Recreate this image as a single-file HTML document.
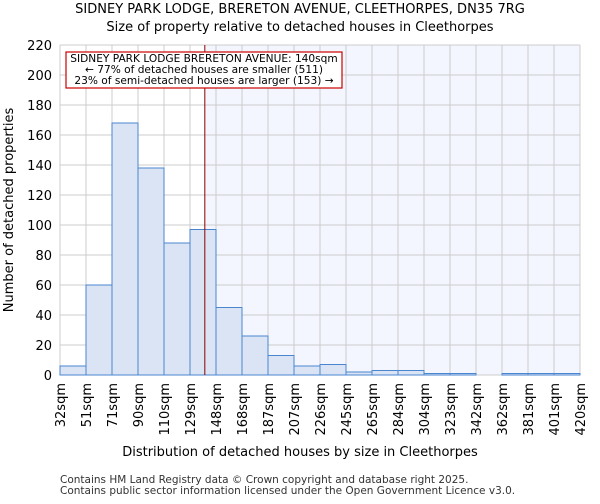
<!DOCTYPE html>
<html><head><meta charset="utf-8"><style>
body{margin:0;background:#fff;font-family:"DejaVu Sans","Liberation Sans",sans-serif;}
</style></head><body>
<svg width="600" height="500" xmlns="http://www.w3.org/2000/svg" font-family="DejaVu Sans, Liberation Sans, sans-serif">
<g id="grid"></g>
<g id="bars"></g>
<g id="axes"></g>
<text x="300" y="13" text-anchor="middle" font-size="13">SIDNEY PARK LODGE, BRERETON AVENUE, CLEETHORPES, DN35 7RG</text>
<text x="300" y="31" text-anchor="middle" font-size="13">Size of property relative to detached houses in Cleethorpes</text>
<text x="300" y="456" text-anchor="middle" font-size="13">Distribution of detached houses by size in Cleethorpes</text>
<text transform="translate(13,210) rotate(-90)" text-anchor="middle" font-size="13">Number of detached properties</text>
<text x="60" y="483" font-size="10.5" fill="#333">Contains HM Land Registry data © Crown copyright and database right 2025.</text>
<text x="60" y="494" font-size="10.5" fill="#333">Contains public sector information licensed under the Open Government Licence v3.0.</text>
<g>
<rect x="66" y="52" width="276" height="36" fill="#fff" stroke="#c00" stroke-width="1.2"/>
<text x="204" y="62" text-anchor="middle" font-size="10.6">SIDNEY PARK LODGE BRERETON AVENUE: 140sqm</text>
<text x="204" y="73" text-anchor="middle" font-size="10.6">← 77% of detached houses are smaller (511)</text>
<text x="204" y="84" text-anchor="middle" font-size="10.6">23% of semi-detached houses are larger (153) →</text>
</g>
</svg>
<script>
const labels=["32sqm","51sqm","71sqm","90sqm","110sqm","129sqm","148sqm","168sqm","187sqm","207sqm","226sqm","245sqm","265sqm","284sqm","304sqm","323sqm","342sqm","362sqm","381sqm","401sqm","420sqm"];
const counts=[6,60,168,138,88,97,45,26,13,6,7,2,3,3,1,1,0,1,1,1];
const yTicks=[0,20,40,60,80,100,120,140,160,180,200,220];
const subjectBin=5.57;
const X0=60,X1=580,Y0=375,Y1=45,YMAX=220;
const bw=(X1-X0)/counts.length;
const x=i=>X0+i*bw, y=v=>Y0-(v/YMAX)*(Y0-Y1);
const NS="http://www.w3.org/2000/svg";
function mk(t,a,p){const e=document.createElementNS(NS,t);for(const k in a)e.setAttribute(k,a[k]);p.appendChild(e);return e;}
const g=document.getElementById('grid'),b=document.getElementById('bars'),ax=document.getElementById('axes');
const sx=x(subjectBin);
const shade=mk('rect',{x:sx,y:Y1,width:X1-sx,height:Y0-Y1,fill:'#f3f6fe'},g);


yTicks.forEach(t=>{const l=mk('line',{x1:X0,x2:X1,y1:y(t),y2:y(t),stroke:'#ccc'},g);


const tx=mk('text',{x:X0-8,y:y(t)+5,'text-anchor':'end','font-size':13},ax);tx.textContent=t;

});
labels.forEach((s,i)=>{const l=mk('line',{x1:x(i),x2:x(i),y1:Y1,y2:Y0,stroke:'#ccc'},g);


const tx=mk('text',{transform:`translate(${x(i)+5},${Y0+8}) rotate(-90)`,'text-anchor':'end','font-size':13},ax);tx.textContent=s;

});
counts.forEach((v,i)=>{if(v<=0)return;const r=mk('rect',{x:x(i),y:y(v),width:bw,height:Y0-y(v),fill:'#dbe4f5',stroke:'#4a86d0','stroke-width':1},b);

});
const vl=mk('line',{x1:sx,x2:sx,y1:Y1,y2:Y0,stroke:'#8b0000','stroke-width':1},b);


</script>
</body></html>
